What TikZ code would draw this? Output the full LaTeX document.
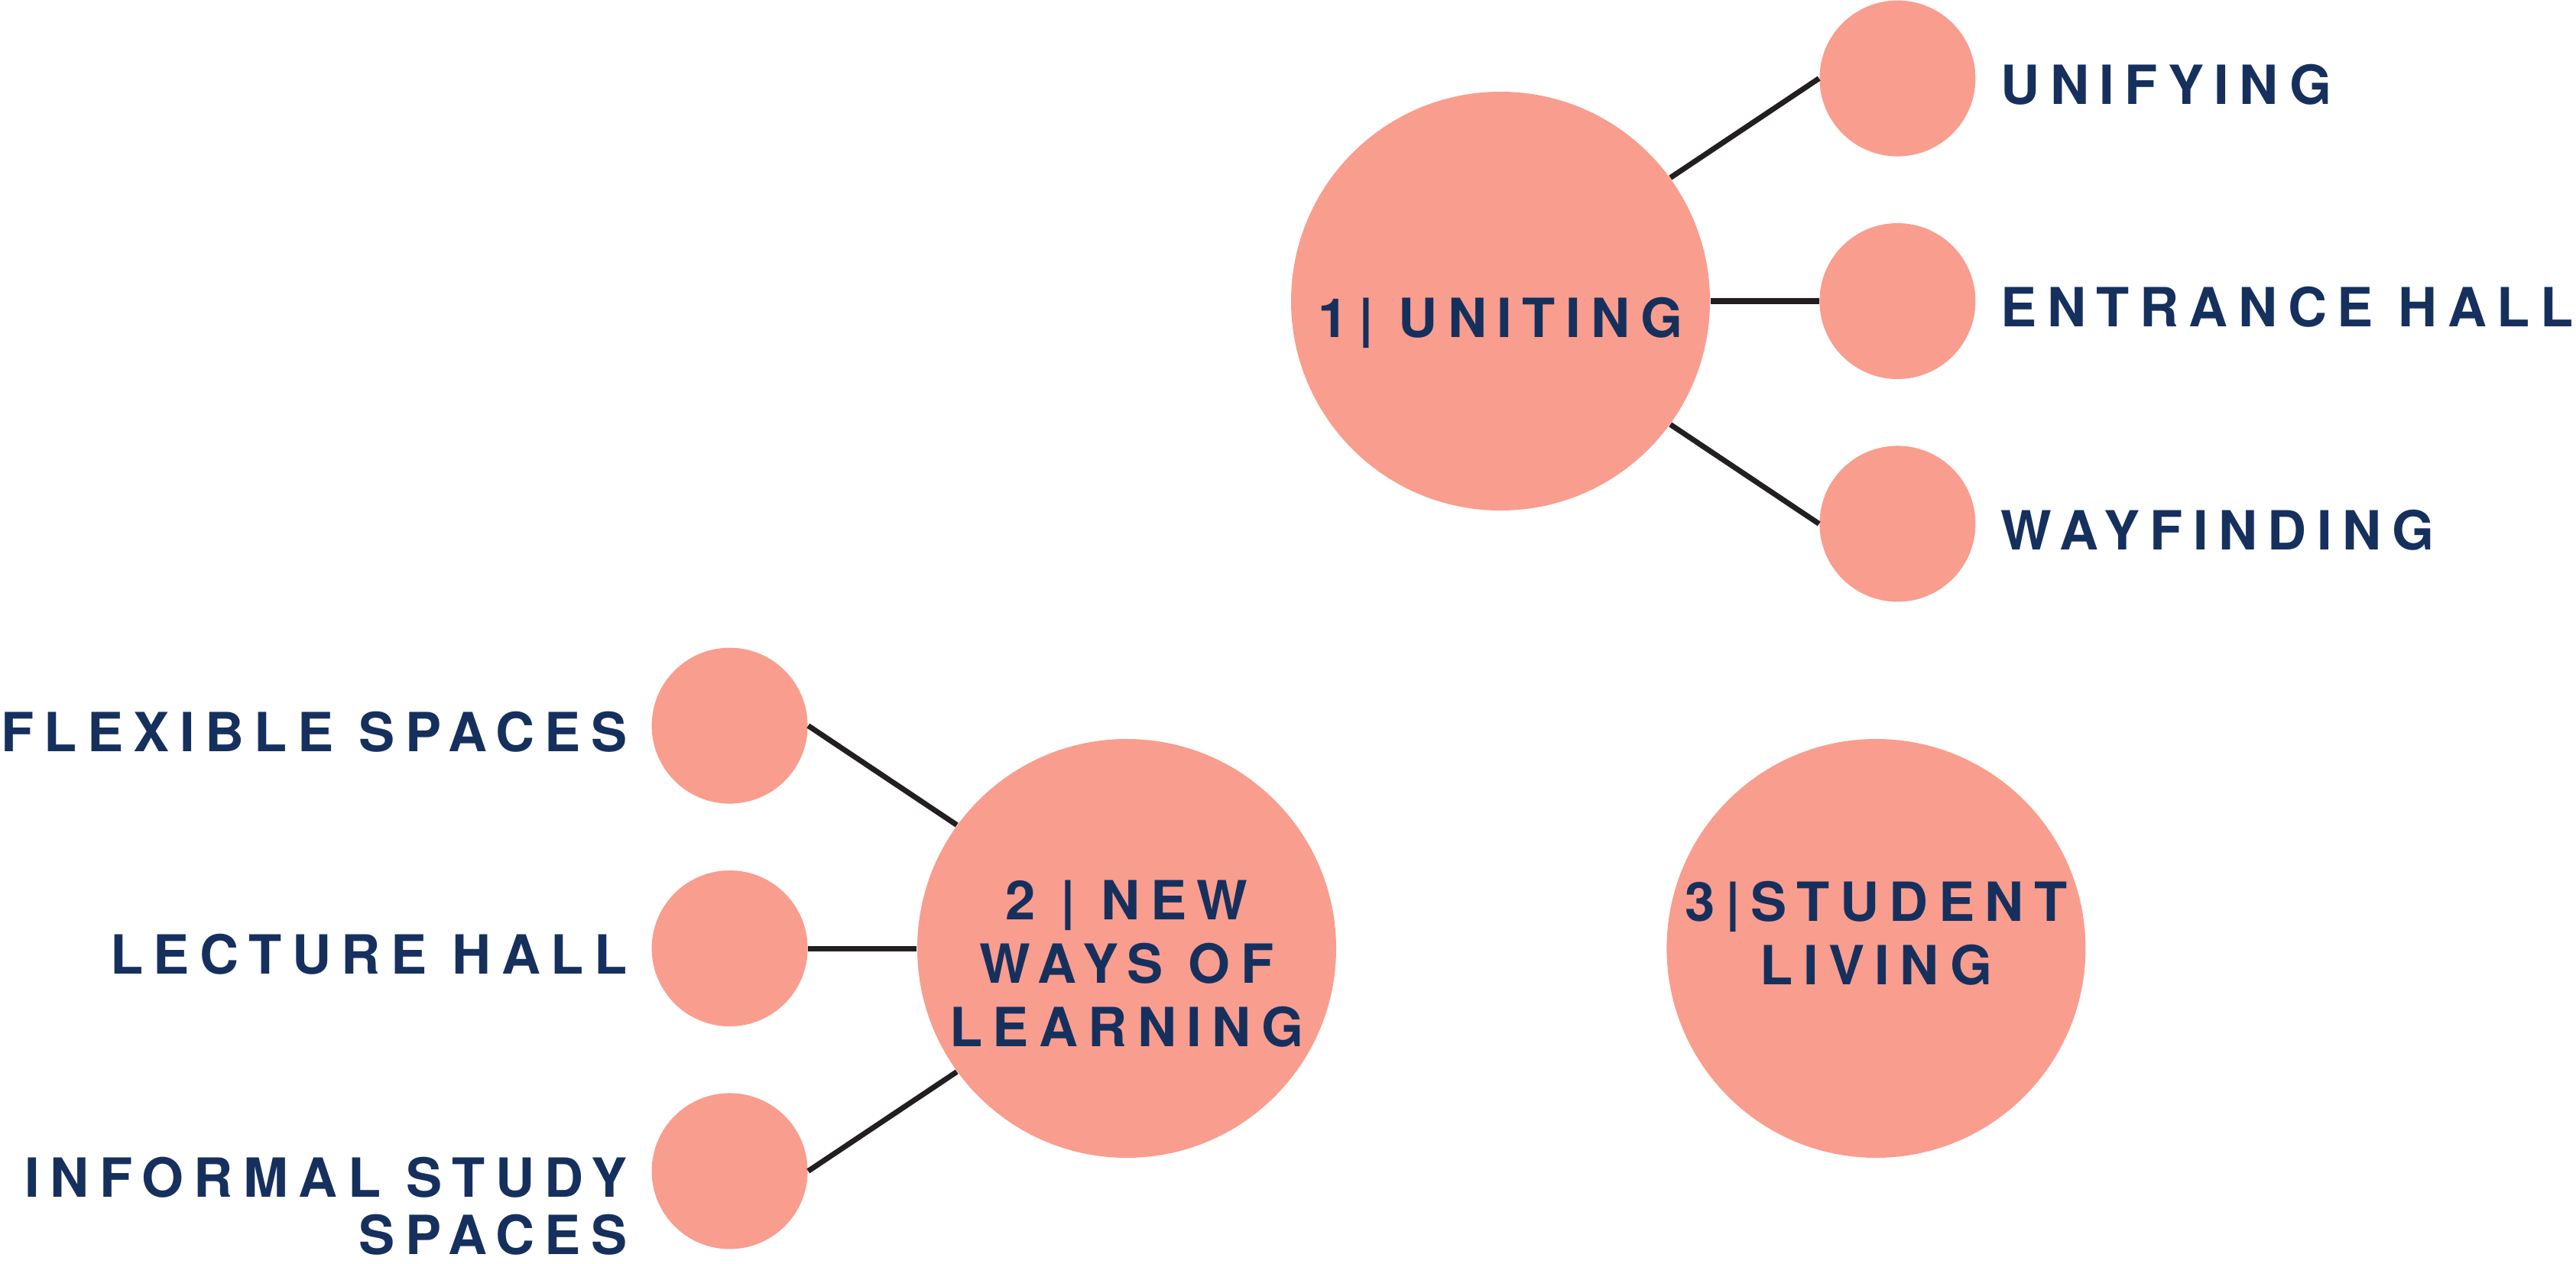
\documentclass[tikz,border=0pt]{standalone}
\usepackage{fontspec}
\usepackage{xcolor}
\usepackage{tikz}
\usetikzlibrary{positioning}
\newfontfamily\diagfont{TeX Gyre Heros}[LetterSpace=19]
\definecolor{salmon}{HTML}{F99D8E}
\definecolor{navy}{HTML}{16305E}
\definecolor{linkgray}{HTML}{231F20}

\tikzset{
  hub/.style={circle, fill=salmon, minimum size=5.48cm, inner sep=0pt},
  spoke/.style={circle, fill=salmon, minimum size=2.04cm, inner sep=0pt},
  tag/.style={text=navy, inner sep=0pt, align=center,
    font=\diagfont\bfseries\fontsize{20.1}{23.6}\selectfont},
  link/.style={draw=linkgray, line width=2pt}
}

\begin{document}
\begin{tikzpicture}
    \useasboundingbox (0,0) rectangle (33.70,-16.53);

    % the three themes
    \node[hub] (uniting) at (19.63,-3.94) {};
    \node[hub] (learning) at (14.74,-12.41) {};
    \node[hub, right=4.31cm of learning] (living) {};

    % sub-themes
    \node[spoke, right=1.42cm of uniting] (entrance) {};
    \node[spoke, above=0.86cm of entrance] (unifying) {};
    \node[spoke, below=0.86cm of entrance] (wayfinding) {};
    \node[spoke, left=1.42cm of learning] (lecture) {};
    \node[spoke, above=0.86cm of lecture] (flexible) {};
    \node[spoke, below=0.86cm of lecture] (informal) {};

    \draw[link] (uniting.36) -- (unifying.west);
    \draw[link] (uniting.east) -- (entrance.west);
    \draw[link] (uniting.-36) -- (wayfinding.west);
    \draw[link] (learning.144) -- (flexible.east);
    \draw[link] (learning.west) -- (lecture.east);
    \draw[link] (learning.216) -- (informal.east);

    % titles
    \node[tag] (uniting-txt) at ([yshift=-2.8mm]uniting.center) {1| UNITING};
    \node[tag] (learning-txt) at ([yshift=-2mm]learning.center) {2 | NEW\\WAYS OF\\LEARNING};
    \node[tag] (living-txt) at ([yshift=2mm]living.center) {3|STUDENT\\LIVING};

    \node[tag, anchor=west] (unifying-txt) at ([xshift=3.2mm, yshift=-0.8mm]unifying.east) {UNIFYING};
    \node[tag, anchor=west] (entrance-txt) at ([xshift=3.2mm, yshift=-0.8mm]entrance.east) {ENTRANCE HALL};
    \node[tag, anchor=west] (wayfinding-txt) at ([xshift=3.2mm, yshift=-0.8mm]wayfinding.east) {WAYFINDING};
    \node[tag, anchor=east] (flexible-txt) at ([xshift=-3.1mm, yshift=-0.8mm]flexible.west) {FLEXIBLE SPACES};
    \node[tag, anchor=east] (lecture-txt) at ([xshift=-3.1mm, yshift=-0.8mm]lecture.west) {LECTURE HALL};
    \node[tag, anchor=north east, align=right] (informal-txt) at ([xshift=-3.1mm, yshift=1.9mm]informal.west) {INFORMAL STUDY\\[-2.3pt]SPACES};
\end{tikzpicture}
\end{document}
